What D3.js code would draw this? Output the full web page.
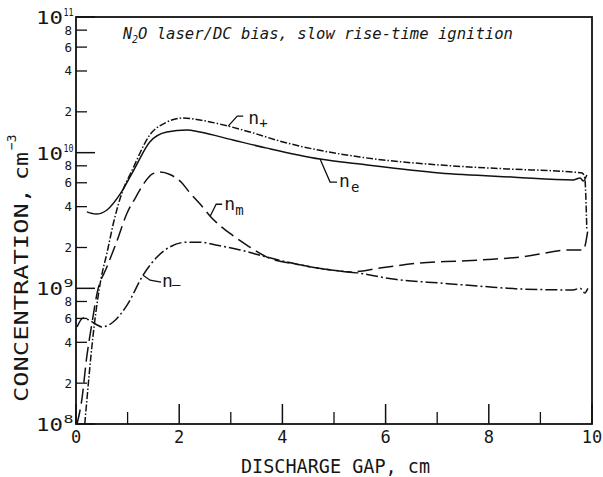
<!DOCTYPE html>
<html>
<head>
<meta charset="utf-8">
<script src="https://cdn.jsdelivr.net/npm/d3@7"></script>
<style>
  body { margin: 0; background: #fff; }
  svg text { font-family: "DejaVu Sans Mono", "Liberation Mono", monospace; fill: #161616; }
</style>
</head>
<body>
<svg id="chart" width="603" height="477"></svg>
<script>
// values (x in cm, concentration in cm^-3)
var nePlusX = [0.17, 0.35, 0.48, 0.60, 0.74, 0.89, 1.09, 1.43, 1.76, 2.07, 2.40, 2.95, 3.37, 4.01, 4.67, 5.50, 7.05, 8.35, 9.63, 9.81, 9.86, 9.90];
var nePlusY = [1.0e8, 5.2e8, 1.15e9, 1.82e9, 3.19e9, 5.05e9, 7.45e9, 1.35e10, 1.68e10, 1.80e10, 1.74e10, 1.57e10, 1.42e10, 1.20e10, 1.05e10, 9.29e9, 8.11e9, 7.59e9, 7.19e9, 7.08e9, 6.5e9, 2.69e9];

var neX = [0.21, 0.39, 0.60, 0.87, 1.12, 1.43, 1.76, 2.15, 2.40, 3.04, 3.70, 4.73, 5.50, 7.05, 8.50, 9.63, 9.77, 9.83, 9.90];
var neY = [3.66e9, 3.53e9, 3.78e9, 5.05e9, 7.45e9, 1.20e10, 1.42e10, 1.47e10, 1.42e10, 1.24e10, 1.08e10, 8.97e9, 8.24e9, 7.08e9, 6.6e9, 6.30e9, 6.5e9, 6.18e9, 6.84e9];

var nmX = [0.02, 0.12, 0.20, 0.31, 0.41, 0.60, 0.78, 0.99, 1.16, 1.32, 1.49, 1.63, 1.82, 2.05, 2.20, 2.40, 2.60, 3.04, 3.31, 3.70, 4.34, 4.98, 5.31, 5.89, 6.67, 7.44, 8.08, 8.60, 9.61, 9.83, 9.92];
var nmY = [1.0e8, 1.58e8, 2.95e8, 5.55e8, 9.25e8, 1.44e9, 2.16e9, 3.59e9, 4.71e9, 5.97e9, 7.0e9, 7.19e9, 6.9e9, 6.0e9, 5.1e9, 4.2e9, 3.4e9, 2.45e9, 2.08e9, 1.70e9, 1.49e9, 1.36e9, 1.32e9, 1.41e9, 1.54e9, 1.59e9, 1.64e9, 1.70e9, 1.92e9, 1.92e9, 2.69e9];

var nMinusX = [0.02, 0.14, 0.41, 0.50, 0.72, 0.99, 1.30, 1.57, 1.82, 2.15, 2.40, 2.73, 3.18, 3.70, 4.34, 4.98, 5.45, 6.14, 7.11, 8.08, 8.60, 9.63, 9.77, 9.86, 9.92];
var nMinusY = [5.2e8, 6.04e8, 5.37e8, 5.19e8, 5.65e8, 7.53e8, 1.25e9, 1.70e9, 2.02e9, 2.19e9, 2.19e9, 2.08e9, 1.92e9, 1.70e9, 1.49e9, 1.36e9, 1.30e9, 1.17e9, 1.09e9, 1.02e9, 9.89e8, 9.73e8, 1.0e9, 9.25e8, 1.0e9];

var xMajor = [0, 2, 4, 6, 8, 10];
var xMinor = [1, 3, 5, 7, 9];
var decades = [8, 9, 10, 11];
var mantissas = [2, 4, 6, 8];

var svg = d3.select("#chart");
var x = d3.scaleLinear().domain([0, 10]).range([76, 592]);
var y = d3.scaleLog().domain([1e8, 1e11]).range([424, 17]);

function zip(xs, ys){
	return xs.map(function(d, i){ return [d, ys[i]]; });
}

var series = [
	{name: "plus", pts: zip(nePlusX, nePlusY), dash: "7,2,1.5,2", lab: "+", at: 11, leader: [[0,0],[9,-10],[15,-10]], tx: 20, ty: -2, sx: 31, sy: 2},
	{name: "e", pts: zip(neX, neY), dash: null, lab: "e", at: 11, leader: [[0,0],[10,23],[17,23]], tx: 19, ty: 28, sx: 31, sy: 33},
	{name: "m", pts: zip(nmX, nmY), dash: "15,6", lab: "m", at: 16, leader: [[0,0],[6,-12],[12,-12]], tx: 14, ty: -6, sx: 25, sy: -1},
	{name: "minus", pts: zip(nMinusX, nMinusY), dash: "12,3,2,3", lab: "\u2013", at: 6, leader: [[0,0],[7,5],[18,7]], tx: 19, ty: 12, sx: 29, sy: 14}
];

var line = d3.line()
	.x(function(d){ return x(d[0]); })
	.y(function(d){ return y(d[1]); })
	.curve(d3.curveMonotoneX);

svg.selectAll("path.curve")
	.data(series).enter().append("path")
	.attr("class", "curve")
	.attr("d", function(s){ return line(s.pts); })
	.attr("fill", "none")
	.attr("stroke", "#111")
	.attr("stroke-width", 1.5)
	.attr("stroke-dasharray", function(s){ return s.dash; });

// curve labels with leader lines
series.forEach(function(s){
	var p = s.pts[s.at];
	var px = x(p[0]), py = y(p[1]);
	svg.append("path")
		.attr("d", d3.line()(s.leader.map(function(o){ return [px + o[0], py + o[1]]; })))
		.attr("fill", "none").attr("stroke", "#111").attr("stroke-width", 1.3);
	svg.append("text").attr("x", px + s.tx).attr("y", py + s.ty)
		.attr("font-size", 18).text("n");
	svg.append("text").attr("x", px + s.sx).attr("y", py + s.sy)
		.attr("font-size", 14).text(s.lab);
});

// frame
svg.append("rect")
	.attr("x", x(0)).attr("y", y(1e11))
	.attr("width", x(10) - x(0)).attr("height", y(1e8) - y(1e11))
	.attr("fill", "none").attr("stroke", "#111").attr("stroke-width", 1.8);

// x ticks (drawn inward)
svg.selectAll("line.xmaj").data(xMajor).enter().append("line")
	.attr("x1", function(d){ return x(d); }).attr("x2", function(d){ return x(d); })
	.attr("y1", y(1e8)).attr("y2", y(1e8) - 20)
	.attr("stroke", "#111").attr("stroke-width", 1.5);
svg.selectAll("line.xmin").data(xMinor).enter().append("line")
	.attr("x1", function(d){ return x(d); }).attr("x2", function(d){ return x(d); })
	.attr("y1", y(1e8)).attr("y2", y(1e8) - 12)
	.attr("stroke", "#111").attr("stroke-width", 1.3);
svg.selectAll("text.xlab").data(xMajor).enter().append("text")
	.attr("x", function(d){ return x(d); }).attr("y", 443)
	.attr("text-anchor", "middle").attr("font-size", 17)
	.text(function(d){ return d; });

// y ticks
decades.forEach(function(k){
	var v = Math.pow(10, k);
	var ty = y(v);
	svg.append("line").attr("x1", x(0)).attr("x2", x(0) + 19)
		.attr("y1", ty).attr("y2", ty).attr("stroke", "#111").attr("stroke-width", 1.5);
	svg.append("text").attr("x", 63).attr("y", ty + 7)
		.attr("text-anchor", "end").attr("font-size", 17)
		.attr("textLength", 27).attr("lengthAdjust", "spacingAndGlyphs")
		.text("10");
	svg.append("text").attr("x", 63.5).attr("y", ty - 1)
		.attr("font-size", 10).attr("textLength", 10).attr("lengthAdjust", "spacingAndGlyphs")
		.text(k);
	if (k < 11) {
		mantissas.forEach(function(m){
			var my = y(m * v);
			svg.append("line").attr("x1", x(0)).attr("x2", x(0) + 11)
				.attr("y1", my).attr("y2", my).attr("stroke", "#111").attr("stroke-width", 1.3);
			svg.append("text").attr("x", 72).attr("y", my + 4.5)
				.attr("text-anchor", "end").attr("font-size", 12.5).text(m);
		});
	}
});

// axis titles
svg.append("text").attr("x", 241).attr("y", 473)
	.attr("font-size", 20).attr("textLength", 189).attr("lengthAdjust", "spacingAndGlyphs")
	.text("DISCHARGE GAP,  cm");

var yl = svg.append("g").attr("transform", "translate(28,402) rotate(-90)");
yl.append("text").attr("x", 0).attr("y", 0)
	.attr("font-size", 20).attr("textLength", 214).attr("lengthAdjust", "spacingAndGlyphs")
	.text("CONCENTRATION,");
yl.append("text").attr("x", 222).attr("y", 0)
	.attr("font-size", 20).attr("textLength", 28).attr("lengthAdjust", "spacingAndGlyphs")
	.text("cm");
yl.append("text").attr("x", 252).attr("y", -12)
	.attr("font-size", 13).text("\u22123");

// title
var t = svg.append("text").attr("y", 39).attr("font-style", "italic").attr("font-size", 15);
t.append("tspan").attr("x", 123).text("N");
t.append("tspan").attr("x", 132).attr("y", 43).attr("font-size", 10).text("2");
t.append("tspan").attr("x", 138).attr("y", 39)
	.attr("textLength", 375).attr("lengthAdjust", "spacingAndGlyphs")
	.text("O laser/DC bias, slow rise-time ignition");
</script>
</body>
</html>
